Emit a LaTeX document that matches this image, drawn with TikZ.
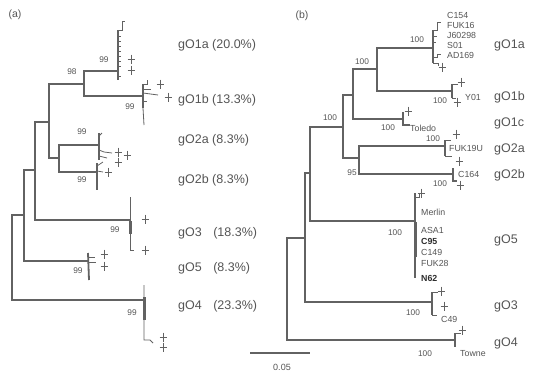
\documentclass[tikz,border=0pt]{standalone}
\usepackage{fontspec}
\setmainfont{Liberation Sans}
\definecolor{lc}{HTML}{626262}
\definecolor{tc}{HTML}{555555}
\definecolor{tb}{HTML}{2E2E2E}
\begin{document}
\begin{tikzpicture}[x=1pt,y=-1pt,
  br/.style={draw=lc, line width=1.2pt},
  cl/.style={draw=lc, line width=1.8pt},
  tk/.style={draw=lc, line width=0.8pt},
  thk/.style={draw=lc, line width=3pt},
  grp/.style={anchor=west, text=tc, font=\fontsize{12.5}{14}\selectfont, inner sep=0pt},
  bs/.style={text=tc, font=\fontsize{8.3}{10}\selectfont, inner sep=0pt},
  leaf/.style={anchor=west, text=tc, font=\fontsize{8.8}{10}\selectfont, inner sep=0pt},
  pnl/.style={text=tc, font=\fontsize{10.5}{12}\selectfont, inner sep=0pt},
  pls/.pic={\draw[lc, line width=0.7pt] (-3.5,0)--(3.5,0) (0,-4.5)--(0,4.5);}
]
\useasboundingbox (0,0) rectangle (541,375);
\fill[white] (0,0) rectangle (541,375);

% ---------------- panel (a) ----------------
\node[pnl] (pa) at (15,15) {(a)};
\coordinate (ra) at (12,258);
\coordinate (a24) at (24,215);
\coordinate (a35) at (35,170);
\coordinate (a49) at (49,122);
\coordinate (a84) at (84,84);
\coordinate (a59) at (59,158);
\coordinate (l1a) at (118,71);
\coordinate (l1b) at (143,96);
\coordinate (l2a) at (99,145);
\coordinate (l2b) at (97,172);
\coordinate (l3) at (130,220);
\coordinate (l5) at (88,261);
\coordinate (l4) at (144,300);
\draw[br] (ra) |- (a24);
\draw[br] (ra) |- (l4);
\draw[br] (a24) |- (a35);
\draw[br] (a24) |- (l5);
\draw[br] (a35) |- (a49);
\draw[br] (a35) |- (l3);
\draw[br] (a49) |- (a84);
\draw[br] (a49) |- (a59);
\draw[br] (a84) |- (l1a);
\draw[br] (a84) |- (l1b);
\draw[br] (a59) |- (l2a);
\draw[br] (a59) |- (l2b);

% clusters (a)
\draw[cl] (118,30) -- (118,80);
\draw[tk] (118,30) -- (122,30) -- (122,21) -- (125,21);
\foreach \yy in {36,41,46,51,56,61,66,76} \draw[tk] (118,\yy) -- (121,\yy);
\pic at (131,59) {pls}; \pic at (131,70) {pls};

\draw[cl] (143,84) -- (143,108);
\draw[tk] (143,108) -- (144,125);
\draw[tk] (143,84) -- (147,84) -- (147,80);
\draw[tk] (143,89) -- (151,89);
\draw[tk] (143,93) -- (158,95);
\draw[tk] (143,101) -- (147,101);
\pic at (160,84) {pls}; \pic at (168,97) {pls};

\draw[cl] (99,133) -- (99,160);
\draw[tk] (99,136) -- (102,133);
\draw[tk] (99,150) -- (104,152) -- (112,153);
\draw[tk] (99,156) -- (107,158);
\pic at (118,152) {pls}; \pic at (127,155) {pls}; \pic at (118,162) {pls};

\draw[cl] (97,163) -- (97,190);
\draw[tk] (97,166) -- (103,162);
\draw[tk] (97,171) -- (103,172);
\pic at (108,172) {pls};

\draw[tk] (130,197) -- (130,250) -- (134,250);
\draw[thk] (130,221) -- (130,234);
\pic at (145,219) {pls}; \pic at (145,250) {pls};

\draw[cl] (88,253) -- (89,280);
\draw[tk] (88,257) -- (95,257);
\draw[tk] (88,262) -- (96,262);
\pic at (104,254) {pls}; \pic at (104,266) {pls};

\draw[tk] (144,285) -- (144,340) -- (150,340) -- (153,343);
\draw[thk] (144,297) -- (144,320);
\pic at (163,337) {pls}; \pic at (163,347) {pls};

% bootstrap (a)
\node[bs] (ba98) at (72,72) {98};
\node[bs] (ba1a) at (104,60) {99};
\node[bs] (ba1b) at (130,107) {99};
\node[bs] (ba2a) at (82,132) {99};
\node[bs] (ba2b) at (82,180) {99};
\node[bs] (ba3) at (115,230) {99};
\node[bs] (ba5) at (78,271) {99};
\node[bs] (ba4) at (132,313) {99};

% group labels (a)
\node[grp] (ga1a) at (178,45) {gO1a (20.0\%)};
\node[grp] (ga1b) at (178,100) {gO1b (13.3\%)};
\node[grp] (ga2a) at (178,140) {gO2a (8.3\%)};
\node[grp] (ga2b) at (178,180) {gO2b (8.3\%)};
\node[grp] (ga3) at (178,233) {gO3\hspace{8pt} (18.3\%)};
\node[grp] (ga5) at (178,268) {gO5\hspace{8pt} (8.3\%)};
\node[grp] (ga4) at (178,306) {gO4\hspace{8pt} (23.3\%)};

% ---------------- panel (b) ----------------
\node[pnl] (pb) at (302,16) {(b)};
\coordinate (rb) at (287,289);
\coordinate (b305) at (305,238);
\coordinate (b310) at (310,173);
\coordinate (b343) at (343,127);
\coordinate (b353) at (353,95);
\coordinate (b377) at (377,69);
\coordinate (b359) at (359,158);
\coordinate (m1a) at (433,48);
\coordinate (m1b) at (452,91);
\coordinate (m1c) at (403,119);
\coordinate (m2a) at (445,146);
\coordinate (m2b) at (453,174);
\coordinate (m5) at (415,221);
\coordinate (m3) at (432,302);
\coordinate (m4) at (455,340);
\draw[br] (rb) |- (b305);
\draw[br] (rb) |- (m4);
\draw[br] (b305) |- (b310);
\draw[br] (b305) |- (m3);
\draw[br] (b310) |- (b343);
\draw[br] (b310) |- (m5);
\draw[br] (b343) |- (b353);
\draw[br] (b343) |- (b359);
\draw[br] (b353) |- (b377);
\draw[br] (b353) |- (m1c);
\draw[br] (b377) |- (m1a);
\draw[br] (b377) |- (m1b);
\draw[br] (b359) |- (m2a);
\draw[br] (b359) |- (m2b);

% clusters (b)
\draw[br] (433,30) -- (433,63);
\draw[tk] (433,30) -- (437,30) -- (437,22) -- (441,22);
\draw[tk] (433,36) -- (437,36);
\draw[tk] (433,42) -- (436,42);
\draw[tk] (433,57) -- (437,57) -- (437,54) -- (441,54);
\draw[tk] (433,63) -- (438,63) -- (438,66);
\pic at (442,67) {pls};

\draw[br] (452,84) -- (452,98);
\draw[tk] (452,84) -- (458,84);
\draw[tk] (452,98) -- (456,98);
\pic at (461,82) {pls}; \pic at (457,102) {pls};

\draw[br] (403,112) -- (403,125) -- (410,125);
\pic at (408,111) {pls};

\draw[br] (445,140) -- (445,156);
\draw[tk] (445,140) -- (451,140);
\draw[tk] (445,156) -- (452,156);
\pic at (456,134) {pls}; \pic at (459,161) {pls};

\draw[br] (453,168) -- (453,181) -- (457,181);
\pic at (460,185) {pls};

\draw[br] (415,193) -- (415,278);
\draw[thk] (415,222) -- (415,257);
\draw[tk] (415,197) -- (419,197) -- (419,193);
\pic at (421,193) {pls};

\draw[br] (432,292) -- (432,315);
\draw[tk] (432,292) -- (438,292);
\draw[tk] (432,315) -- (437,315);
\pic at (441,291) {pls}; \pic at (444,306) {pls};

\draw[br] (455,333) -- (455,347);
\draw[tk] (455,333) -- (461,333);
\pic at (462,330) {pls};

% leaf labels (b)
\node[leaf] (lC154) at (447,15) {C154};
\node[leaf] (lFUK16) at (447,25) {FUK16};
\node[leaf] (lJ6) at (447,35) {J60298};
\node[leaf] (lS01) at (447,45) {S01};
\node[leaf] (lAD) at (447,55) {AD169};
\node[leaf] (lY01) at (465,97) {Y01};
\node[leaf] (lTol) at (410,128) {Toledo};
\node[leaf] (lFUK19) at (449,148) {FUK19U};
\node[leaf] (lC164) at (458,174) {C164};
\node[leaf] (lMer) at (421,212) {Merlin};
\node[leaf] (lASA) at (421,230) {ASA1};
\node[leaf, text=tb, font=\fontsize{8.8}{10}\selectfont\bfseries] (lC95) at (421,241) {C95};
\node[leaf] (lC149) at (421,252) {C149};
\node[leaf] (lFUK28) at (421,263) {FUK28};
\node[leaf, text=tb, font=\fontsize{8.8}{10}\selectfont\bfseries] (lN62) at (421,278) {N62};
\node[leaf] (lC49) at (441,319) {C49};
\node[leaf] (lTow) at (460,354) {Towne};

% bootstrap (b)
\node[bs] (bb1) at (330,118) {100};
\node[bs] (bb2) at (362,62) {100};
\node[bs] (bb3) at (388,128) {100};
\node[bs] (bb4) at (352,173) {95};
\node[bs] (bb5) at (417,40) {100};
\node[bs] (bb6) at (440,101) {100};
\node[bs] (bb7) at (433,139) {100};
\node[bs] (bb8) at (440,184) {100};
\node[bs] (bb9) at (395,233) {100};
\node[bs] (bb10) at (413,313) {100};
\node[bs] (bb11) at (425,354) {100};

% group labels (b)
\node[grp] (gb1a) at (494,45) {gO1a};
\node[grp] (gb1b) at (494,97) {gO1b};
\node[grp] (gb1c) at (494,123) {gO1c};
\node[grp] (gb2a) at (494,149) {gO2a};
\node[grp] (gb2b) at (494,175) {gO2b};
\node[grp] (gb5) at (494,240) {gO5};
\node[grp] (gb3) at (494,306) {gO3};
\node[grp] (gb4) at (494,343) {gO4};

% scale bar
\coordinate (sb1) at (250,353);
\coordinate (sb2) at (310,353);
\draw[br] (sb1) -- (sb2);
\node[bs, font=\fontsize{9}{10}\selectfont] (sbl) at (282,367) {0.05};
\end{tikzpicture}
\end{document}
